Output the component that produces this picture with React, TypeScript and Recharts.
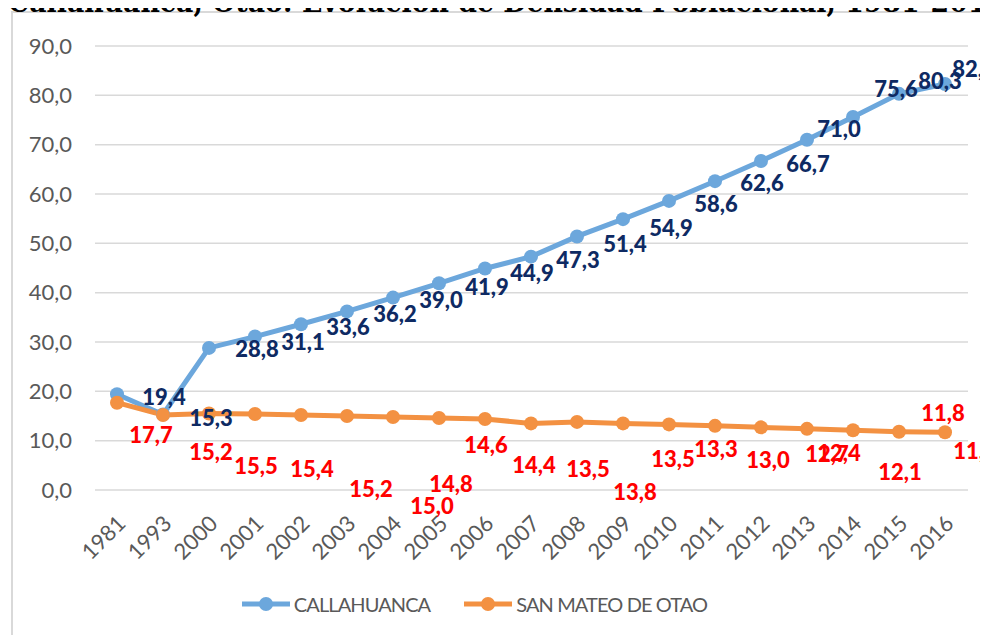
import { LineChart, Line, XAxis, YAxis, CartesianGrid, Legend, LabelList } from 'recharts'

const years = ['1981', '1993', '2000', '2001', '2002', '2003', '2004', '2005', '2006', '2007', '2008', '2009', '2010', '2011', '2012', '2013', '2014', '2015', '2016']
const callahuanca = [19.4, 15.3, 28.8, 31.1, 33.6, 36.2, 39.0, 41.9, 44.9, 47.3, 51.4, 54.9, 58.6, 62.6, 66.7, 71.0, 75.6, 80.3, 82.3]
const sanMateo = [17.7, 15.2, 15.5, 15.4, 15.2, 15.0, 14.8, 14.6, 14.4, 13.5, 13.8, 13.5, 13.3, 13.0, 12.7, 12.4, 12.1, 11.8, 11.7]
const yTicks = [0, 10, 20, 30, 40, 50, 60, 70, 80, 90]
const seriesNames = ['CALLAHUANCA', 'SAN MATEO DE OTAO']
const title = 'Callahuanca, Otao: Evolución de Densidad Poblacional, 1981-2016'

// label nudges (px from the point), as they sit in the original sheet
const blueNudge = [[47, 2], [48, 3], [48, 1], [48, 5], [47, 2], [48, 2], [48, 2], [48, 3], [47, 4], [47, 3], [48, 7], [48, 8], [47, 3], [47, 1], [47, 3], [32, -11], [43, -29], [41, -13], [29, -15]]
const orangeNudge = [[34, 32], [48, 36], [47, 52], [57, 54], [70, 73], [85, 89], [58, 67], [47, 27], [49, 46], [57, 45], [58, 70], [50, 35], [47, 24], [53, 34], [66, 26], [32, 24], [47, 41], [44, -19], [30, 18]]

const data = years.map((year, i) => ({ year, callahuanca: callahuanca[i], sanMateo: sanMateo[i] }))

const BLUE = '#6CA7DC'
const ORANGE = '#F39142'
const FONT = 'Lato, "Open Sans", sans-serif'

const fmt = (v: number) => v.toFixed(1).replace('.', ',')

const makeLabel = (nudge: number[][], color: string) => (props: any) => {
  const { x, y, value, index } = props
  const [dx, dy] = nudge[index] || [0, 0]
  return (
    <text
      x={x + dx}
      y={y + dy}
      textAnchor="middle"
      dominantBaseline="central"
      fill={color}
      fontSize={22}
      fontWeight={900}
      fontFamily={FONT}
    >
      {fmt(value)}
    </text>
  )
}

const YearTick = (props: any) => {
  const { x, y, payload } = props
  const tx = x + 10
  const ty = y + 27
  return (
    <text
      x={tx}
      y={ty}
      transform={`rotate(-45, ${tx}, ${ty})`}
      textAnchor="end"
      fill="#595959"
      fontSize={22}
      fontFamily={FONT}
    >
      {payload.value}
    </text>
  )
}

const LegendContent = () => (
  <div style={{ display: 'flex', justifyContent: 'center', alignItems: 'center', gap: 33, paddingRight: 20, height: 40, fontFamily: FONT }}>
    {[BLUE, ORANGE].map((c, i) => (
      <div key={i} style={{ display: 'flex', alignItems: 'center' }}>
        <svg width={50} height={16}>
          <line x1={1} y1={8} x2={49} y2={8} stroke={c} strokeWidth={5} />
          <circle cx={25} cy={8} r={7} fill={c} />
        </svg>
        <span style={{ color: '#595959', fontSize: 20, letterSpacing: -0.9, marginLeft: 3 }}>{seriesNames[i]}</span>
      </div>
    ))}
  </div>
)

export default function App() {
  return (
    <div style={{ position: 'relative', width: 988, height: 643, margin: -8, overflow: 'hidden', background: '#fff' }}>
      <div
        style={{
          position: 'absolute',
          left: 11,
          top: 11,
          width: 1000,
          height: 700,
          border: '2px solid #D9D9D9',
        }}
      />
      <svg width={988} height={24} style={{ position: 'absolute', left: 0, top: 0, overflow: 'visible' }}>
        <text
          x={8}
          y={12}
          textLength={997}
          lengthAdjust="spacingAndGlyphs"
          fontFamily='"DejaVu Serif", serif'
          fontWeight={700}
          fontSize={27}
          fill="#000"
        >
          {title}
        </text>
      </svg>
      <div style={{ position: 'absolute', left: 0, top: 0 }}>
        <LineChart width={988} height={643} data={data} margin={{ top: 46, right: 20, bottom: 19, left: 0 }}>
          <CartesianGrid vertical={false} stroke="#D9D9D9" strokeWidth={1.5} />
          <XAxis
            dataKey="year"
            interval={0}
            axisLine={false}
            tickLine={false}
            padding={{ left: 22, right: 23 }}
            height={94}
            tick={<YearTick />}
          />
          <YAxis
            domain={[0, 90]}
            ticks={yTicks}
            tickFormatter={fmt}
            axisLine={false}
            tickLine={false}
            tickSize={0}
            tickMargin={23}
            width={95}
            tick={{ fill: '#595959', fontSize: 22, fontFamily: FONT }}
          />
          <Legend verticalAlign="bottom" content={<LegendContent />} wrapperStyle={{ height: 40 }} />
          <Line
            type="linear"
            dataKey="callahuanca"
            name={seriesNames[0]}
            stroke={BLUE}
            strokeWidth={5}
            dot={{ r: 7, fill: BLUE, stroke: 'none' }}
            activeDot={false}
            isAnimationActive={false}
          />
          <Line
            type="linear"
            dataKey="sanMateo"
            name={seriesNames[1]}
            stroke={ORANGE}
            strokeWidth={5}
            dot={{ r: 7, fill: ORANGE, stroke: 'none' }}
            activeDot={false}
            isAnimationActive={false}
          />
          {/* label-only passes so the numbers sit above both lines */}
          <Line dataKey="callahuanca" stroke="none" dot={false} activeDot={false} legendType="none" isAnimationActive={false}>
            <LabelList dataKey="callahuanca" content={makeLabel(blueNudge, '#0E2A63')} />
          </Line>
          <Line dataKey="sanMateo" stroke="none" dot={false} activeDot={false} legendType="none" isAnimationActive={false}>
            <LabelList dataKey="sanMateo" content={makeLabel(orangeNudge, '#FF0000')} />
          </Line>
        </LineChart>
      </div>
    </div>
  )
}
